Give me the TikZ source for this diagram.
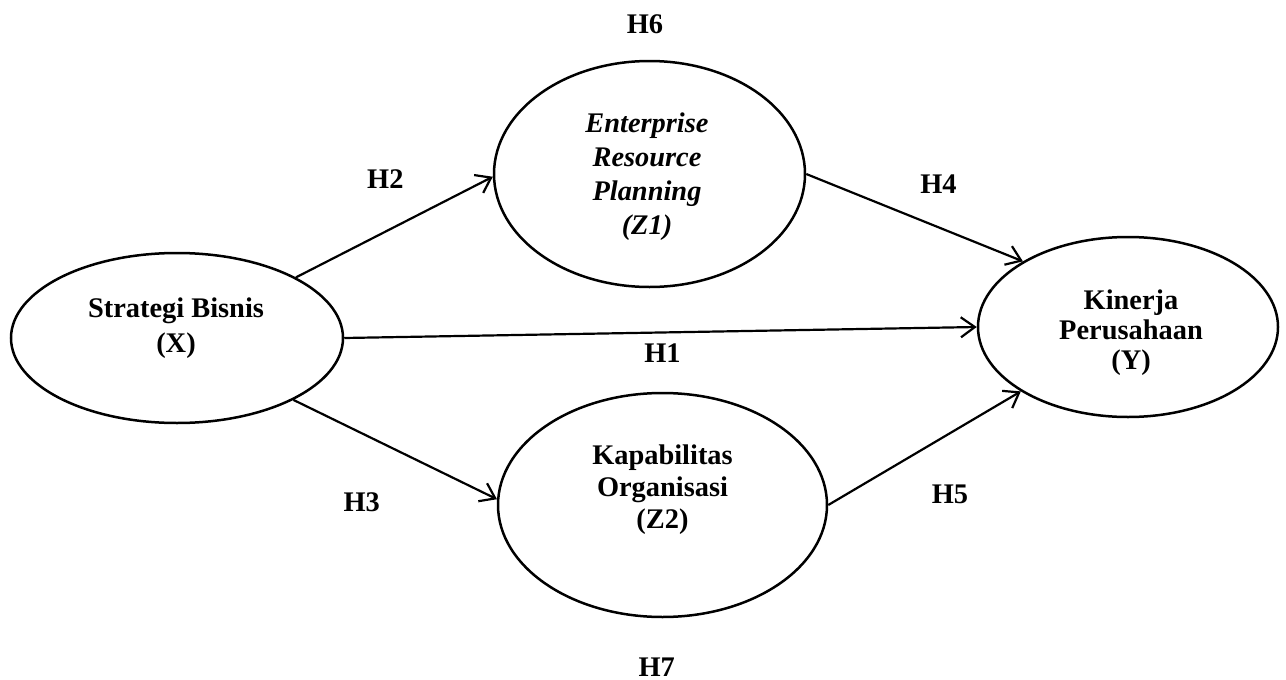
\documentclass[tikz,border=0pt]{standalone}
\usepackage{fontspec}
\setmainfont{Liberation Serif}
\usetikzlibrary{shapes.geometric,arrows.meta}
\begin{document}
\begin{tikzpicture}[x=1pt,y=-1pt,
  var/.style 2 args={draw, ellipse, line width=2.5pt, inner sep=0pt, minimum width=#1, minimum height=#2},
  txt/.style={inner sep=0pt, align=center, font=\fontsize{28.4}{#1}\selectfont\bfseries},
  hyp/.style={inner sep=0pt, anchor=base, font=\fontsize{28.4}{34}\selectfont\bfseries},
  link/.style={line width=2.2pt, -{Straight Barb[length=14pt,width=20pt,line width=2.2pt]}}]
\useasboundingbox (0,0) rectangle (1286,680);
\node[var={332pt}{170pt}] (X) at (177,338) {};
\node[var={311pt}{226pt}] (Z1) at (649.5,174) {};
\node[var={329pt}{224pt}] (Z2) at (662.5,505) {};
\node[var={300pt}{180pt}] (Y) at (1128,327) {};
\node[txt=34.5] (Xt) at (176,328) {Strategi Bisnis\\(X)};
\node[txt=34] (Z1t) at (647,176.3) {\itshape Enterprise\\\itshape Resource\\\itshape Planning\\\itshape (Z1)};
\node[txt=32] (Z2t) at (662.5,489.5) {Kapabilitas\\Organisasi\\(Z2)};
\node[txt=30] (Yt) at (1131,333) {Kinerja\\Perusahaan\\(Y)};
\draw[link] (X.27.7) -- (Z1.181.1);
\draw[link] (Z1.0) -- (Y.148.5);
\draw[link] (X.0) -- (Y.180);
\draw[link] (X.-28.1) -- (Z2.178.3);
\draw[link] (Z2.0) -- (Y.211.5);
\node[hyp] (H6) at (645,33) {H6};
\node[hyp] (H2) at (385.3,188) {H2};
\node[hyp] (H4) at (938.5,193.5) {H4};
\node[hyp] (H1) at (662.5,362) {H1};
\node[hyp] (H3) at (361.7,511.5) {H3};
\node[hyp] (H5) at (950,503.5) {H5};
\node[hyp] (H7) at (656.7,676) {H7};
\end{tikzpicture}
\end{document}
